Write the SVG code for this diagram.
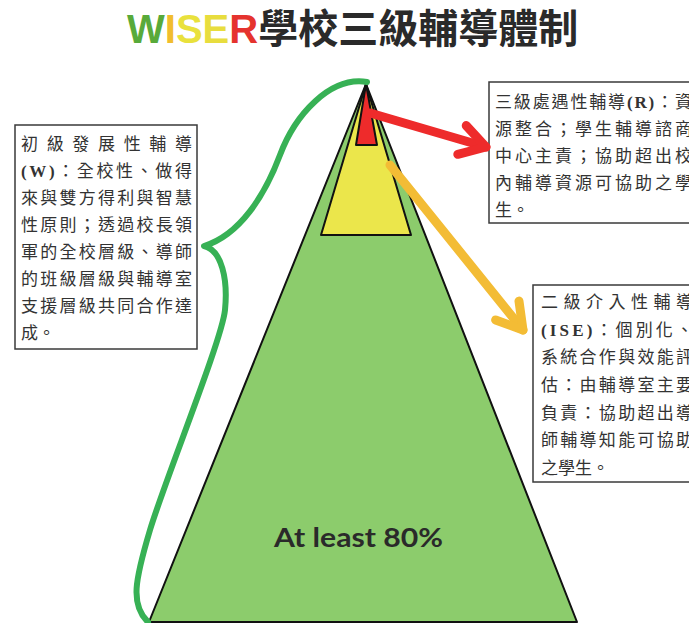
<svg xmlns="http://www.w3.org/2000/svg" width="689" height="623" viewBox="0 0 689 623">
<style>
.box{fill:#fff;stroke:#3a3a3a;stroke-width:1.5}
.body{font-family:"Noto Sans CJK TC","Noto Sans CJK SC",sans-serif;font-size:17px;fill:#333}
.lat{font-family:"Liberation Serif","Noto Sans CJK TC",serif;font-weight:bold}
.tier{stroke:#111;stroke-width:2;stroke-linejoin:round}
.arrow{fill:none;stroke-width:9;stroke-linecap:round}
</style>
<defs>
<marker id="head-red" markerUnits="userSpaceOnUse" markerWidth="60" markerHeight="60" refX="0" refY="0" orient="auto" style="overflow:visible">
<path d="M-25,-15 L0,0 L-25,15" fill="none" stroke="#ee2b2b" stroke-width="9" stroke-linecap="round" stroke-linejoin="round"/>
</marker>
<marker id="head-orange" markerUnits="userSpaceOnUse" markerWidth="60" markerHeight="60" refX="0" refY="0" orient="auto" style="overflow:visible">
<path d="M-25,-15 L0,0 L-25,15" fill="none" stroke="#f3bc35" stroke-width="9" stroke-linecap="round" stroke-linejoin="round"/>
</marker>
</defs>
<rect width="689" height="623" fill="#fff"/>

<g id="title">
<text x="127" y="43" font-family="'Liberation Sans','Noto Sans CJK TC',sans-serif" font-size="40" font-weight="bold"><tspan fill="#58aa3a">W</tspan><tspan fill="#f1bd2e">I</tspan><tspan fill="#e9e13c">S</tspan><tspan fill="#e8dd3e">E</tspan><tspan fill="#e5332e">R</tspan><tspan fill="#2a2a2a" font-family="'Noto Sans CJK TC',sans-serif">學校三級輔導體制</tspan></text>
</g>

<g id="pyramid">
<polygon id="tier-base" class="tier" points="366,84 577,622 149,622" fill="#8ccc6c"/>
<polygon id="tier-middle" class="tier" points="366,84 411,235 321,235" fill="#ebe64b"/>
<polygon id="tier-top" class="tier" points="366,84 377,145 356,145" fill="#ee2b2b"/>
<text x="274" y="547" font-family="Lato,'Liberation Sans',sans-serif" font-size="26" font-weight="bold" fill="#2a2a2a" textLength="169" lengthAdjust="spacingAndGlyphs">At least 80%</text>
</g>

<g id="box-w">
<rect class="box" x="15" y="125" width="182" height="224"/>
<text class="body" x="21" y="150" textLength="171" lengthAdjust="spacing">初級發展性輔導</text>
<text class="body" x="21" y="177" textLength="171" lengthAdjust="spacing"><tspan class="lat">(W)</tspan>：全校性、做得</text>
<text class="body" x="21" y="204" textLength="171" lengthAdjust="spacing">來與雙方得利與智慧</text>
<text class="body" x="21" y="231" textLength="171" lengthAdjust="spacing">性原則；透過校長領</text>
<text class="body" x="21" y="258" textLength="171" lengthAdjust="spacing">軍的全校層級、導師</text>
<text class="body" x="21" y="285" textLength="171" lengthAdjust="spacing">的班級層級與輔導室</text>
<text class="body" x="21" y="312" textLength="171" lengthAdjust="spacing">支援層級共同合作達</text>
<text class="body" x="21" y="339">成。</text>
</g>

<g id="box-r">
<rect class="box" x="489" y="82" width="220" height="141"/>
<text class="body" x="495" y="108" textLength="197" lengthAdjust="spacing">三級處遇性輔導<tspan class="lat">(R)</tspan>：資</text>
<text class="body" x="495" y="135" textLength="197" lengthAdjust="spacing">源整合；學生輔導諮商</text>
<text class="body" x="495" y="162" textLength="197" lengthAdjust="spacing">中心主責；協助超出校</text>
<text class="body" x="495" y="189" textLength="197" lengthAdjust="spacing">內輔導資源可協助之學</text>
<text class="body" x="495" y="216">生。</text>
</g>

<g id="box-ise">
<rect class="box" x="533" y="285" width="180" height="197"/>
<text class="body" x="541" y="308" textLength="152" lengthAdjust="spacing">二級介入性輔導</text>
<text class="body" x="541" y="336" textLength="152" lengthAdjust="spacing"><tspan class="lat">(ISE)</tspan>：個別化、</text>
<text class="body" x="541" y="363" textLength="152" lengthAdjust="spacing">系統合作與效能評</text>
<text class="body" x="541" y="391" textLength="152" lengthAdjust="spacing">估：由輔導室主要</text>
<text class="body" x="541" y="419" textLength="152" lengthAdjust="spacing">負責：協助超出導</text>
<text class="body" x="541" y="446" textLength="152" lengthAdjust="spacing">師輔導知能可協助</text>
<text class="body" x="541" y="474">之學生。</text>
</g>

<g id="connectors">
<path id="brace" d="M367,82 C330,76 295,115 280,155 C265,195 240,235 204,246 C222,250 228,280 225,310 C222,340 165,480 150,530 C135,580 130,605 148,622" fill="none" stroke="#37b155" stroke-width="6" stroke-linecap="round" stroke-linejoin="round"/>
<path id="arrow-r" class="arrow" d="M370,113 L486,147" stroke="#ee2b2b" marker-end="url(#head-red)"/>
<path id="arrow-ise" class="arrow" d="M390,165 L523,330" stroke="#f3bc35" marker-end="url(#head-orange)"/>
</g>
</svg>
